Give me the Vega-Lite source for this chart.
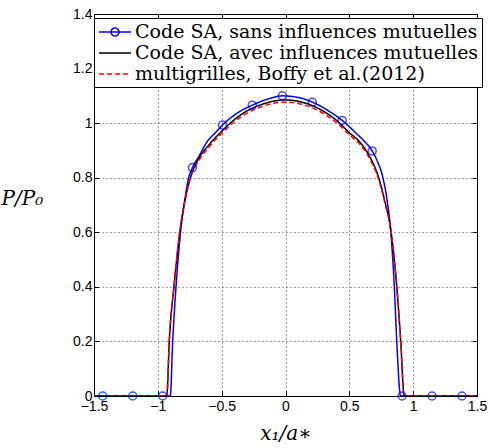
{
  "$schema": "https://vega.github.io/schema/vega-lite/v6.json",
  "width": 383,
  "height": 382,
  "autosize": {"type": "none"},
  "padding": {"left": 94, "top": 14, "right": 13, "bottom": 52},
  "background": "white",
  "config": {
    "view": {"stroke": "black", "strokeWidth": 1},
    "legend": {"labelFont": "DejaVu Serif", "labelFontSize": 19, "labelColor": "black"},
    "axis": {
      "labelFont": "Liberation Sans",
      "labelFontSize": 14,
      "labelColor": "black",
      "labelFlush": false,
      "labelOverlap": false,
      "domainColor": "black",
      "tickColor": "black",
      "gridColor": "#444",
      "gridDash": [1, 3],
      "gridWidth": 1,
      "titleFont": "DejaVu Serif",
      "titleFontStyle": "italic",
      "titleFontWeight": "normal",
      "titleFontSize": 20,
      "titleColor": "black"
    }
  },
  "datasets": {
    "lines": [
      {"series": "Code SA, sans influences mutuelles", "x": -1.5, "p": 0},
      {"series": "Code SA, sans influences mutuelles", "x": -0.903, "p": 0},
      {"series": "Code SA, sans influences mutuelles", "x": -0.883, "p": 0.205},
      {"series": "Code SA, sans influences mutuelles", "x": -0.857, "p": 0.404},
      {"series": "Code SA, sans influences mutuelles", "x": -0.821, "p": 0.605},
      {"series": "Code SA, sans influences mutuelles", "x": -0.785, "p": 0.73},
      {"series": "Code SA, sans influences mutuelles", "x": -0.761, "p": 0.795},
      {"series": "Code SA, sans influences mutuelles", "x": -0.729, "p": 0.837},
      {"series": "Code SA, sans influences mutuelles", "x": -0.68, "p": 0.877},
      {"series": "Code SA, sans influences mutuelles", "x": -0.617, "p": 0.93},
      {"series": "Code SA, sans influences mutuelles", "x": -0.55, "p": 0.965},
      {"series": "Code SA, sans influences mutuelles", "x": -0.494, "p": 0.993},
      {"series": "Code SA, sans influences mutuelles", "x": -0.4, "p": 1.03},
      {"series": "Code SA, sans influences mutuelles", "x": -0.26, "p": 1.066},
      {"series": "Code SA, sans influences mutuelles", "x": -0.14, "p": 1.088},
      {"series": "Code SA, sans influences mutuelles", "x": -0.025, "p": 1.1},
      {"series": "Code SA, sans influences mutuelles", "x": 0.1, "p": 1.094},
      {"series": "Code SA, sans influences mutuelles", "x": 0.21, "p": 1.077},
      {"series": "Code SA, sans influences mutuelles", "x": 0.33, "p": 1.047},
      {"series": "Code SA, sans influences mutuelles", "x": 0.444, "p": 1.01},
      {"series": "Code SA, sans influences mutuelles", "x": 0.56, "p": 0.96},
      {"series": "Code SA, sans influences mutuelles", "x": 0.615, "p": 0.935},
      {"series": "Code SA, sans influences mutuelles", "x": 0.679, "p": 0.898},
      {"series": "Code SA, sans influences mutuelles", "x": 0.72, "p": 0.86},
      {"series": "Code SA, sans influences mutuelles", "x": 0.761, "p": 0.804},
      {"series": "Code SA, sans influences mutuelles", "x": 0.795, "p": 0.72},
      {"series": "Code SA, sans influences mutuelles", "x": 0.824, "p": 0.605},
      {"series": "Code SA, sans influences mutuelles", "x": 0.852, "p": 0.404},
      {"series": "Code SA, sans influences mutuelles", "x": 0.871, "p": 0.205},
      {"series": "Code SA, sans influences mutuelles", "x": 0.902, "p": 0},
      {"series": "Code SA, sans influences mutuelles", "x": 1.5, "p": 0},
      {"series": "Code SA, avec influences mutuelles", "x": -1.5, "p": 0},
      {"series": "Code SA, avec influences mutuelles", "x": -0.93, "p": 0},
      {"series": "Code SA, avec influences mutuelles", "x": -0.91, "p": 0.205},
      {"series": "Code SA, avec influences mutuelles", "x": -0.873, "p": 0.404},
      {"series": "Code SA, avec influences mutuelles", "x": -0.826, "p": 0.605},
      {"series": "Code SA, avec influences mutuelles", "x": -0.79, "p": 0.71},
      {"series": "Code SA, avec influences mutuelles", "x": -0.742, "p": 0.804},
      {"series": "Code SA, avec influences mutuelles", "x": -0.68, "p": 0.87},
      {"series": "Code SA, avec influences mutuelles", "x": -0.6, "p": 0.92},
      {"series": "Code SA, avec influences mutuelles", "x": -0.5, "p": 0.97},
      {"series": "Code SA, avec influences mutuelles", "x": -0.4, "p": 1.013},
      {"series": "Code SA, avec influences mutuelles", "x": -0.3, "p": 1.045},
      {"series": "Code SA, avec influences mutuelles", "x": -0.2, "p": 1.066},
      {"series": "Code SA, avec influences mutuelles", "x": -0.1, "p": 1.08},
      {"series": "Code SA, avec influences mutuelles", "x": 0, "p": 1.085},
      {"series": "Code SA, avec influences mutuelles", "x": 0.1, "p": 1.08},
      {"series": "Code SA, avec influences mutuelles", "x": 0.2, "p": 1.066},
      {"series": "Code SA, avec influences mutuelles", "x": 0.3, "p": 1.043},
      {"series": "Code SA, avec influences mutuelles", "x": 0.4, "p": 1.01},
      {"series": "Code SA, avec influences mutuelles", "x": 0.5, "p": 0.965},
      {"series": "Code SA, avec influences mutuelles", "x": 0.583, "p": 0.93},
      {"series": "Code SA, avec influences mutuelles", "x": 0.65, "p": 0.885},
      {"series": "Code SA, avec influences mutuelles", "x": 0.727, "p": 0.804},
      {"series": "Code SA, avec influences mutuelles", "x": 0.78, "p": 0.71},
      {"series": "Code SA, avec influences mutuelles", "x": 0.826, "p": 0.605},
      {"series": "Code SA, avec influences mutuelles", "x": 0.871, "p": 0.404},
      {"series": "Code SA, avec influences mutuelles", "x": 0.902, "p": 0.205},
      {"series": "Code SA, avec influences mutuelles", "x": 0.93, "p": 0},
      {"series": "Code SA, avec influences mutuelles", "x": 1.5, "p": 0},
      {"series": "multigrilles, Boffy et al.(2012)", "x": -1.5, "p": 0},
      {"series": "multigrilles, Boffy et al.(2012)", "x": -0.93, "p": 0},
      {"series": "multigrilles, Boffy et al.(2012)", "x": -0.91, "p": 0.205},
      {"series": "multigrilles, Boffy et al.(2012)", "x": -0.873, "p": 0.404},
      {"series": "multigrilles, Boffy et al.(2012)", "x": -0.828, "p": 0.605},
      {"series": "multigrilles, Boffy et al.(2012)", "x": -0.792, "p": 0.705},
      {"series": "multigrilles, Boffy et al.(2012)", "x": -0.745, "p": 0.797},
      {"series": "multigrilles, Boffy et al.(2012)", "x": -0.68, "p": 0.862},
      {"series": "multigrilles, Boffy et al.(2012)", "x": -0.6, "p": 0.912},
      {"series": "multigrilles, Boffy et al.(2012)", "x": -0.5, "p": 0.962},
      {"series": "multigrilles, Boffy et al.(2012)", "x": -0.4, "p": 1.005},
      {"series": "multigrilles, Boffy et al.(2012)", "x": -0.3, "p": 1.037},
      {"series": "multigrilles, Boffy et al.(2012)", "x": -0.2, "p": 1.058},
      {"series": "multigrilles, Boffy et al.(2012)", "x": -0.1, "p": 1.072},
      {"series": "multigrilles, Boffy et al.(2012)", "x": 0, "p": 1.077},
      {"series": "multigrilles, Boffy et al.(2012)", "x": 0.1, "p": 1.072},
      {"series": "multigrilles, Boffy et al.(2012)", "x": 0.2, "p": 1.058},
      {"series": "multigrilles, Boffy et al.(2012)", "x": 0.3, "p": 1.035},
      {"series": "multigrilles, Boffy et al.(2012)", "x": 0.4, "p": 1.002},
      {"series": "multigrilles, Boffy et al.(2012)", "x": 0.5, "p": 0.957},
      {"series": "multigrilles, Boffy et al.(2012)", "x": 0.583, "p": 0.922},
      {"series": "multigrilles, Boffy et al.(2012)", "x": 0.65, "p": 0.878},
      {"series": "multigrilles, Boffy et al.(2012)", "x": 0.727, "p": 0.797},
      {"series": "multigrilles, Boffy et al.(2012)", "x": 0.78, "p": 0.705},
      {"series": "multigrilles, Boffy et al.(2012)", "x": 0.826, "p": 0.605},
      {"series": "multigrilles, Boffy et al.(2012)", "x": 0.871, "p": 0.404},
      {"series": "multigrilles, Boffy et al.(2012)", "x": 0.902, "p": 0.205},
      {"series": "multigrilles, Boffy et al.(2012)", "x": 0.93, "p": 0},
      {"series": "multigrilles, Boffy et al.(2012)", "x": 1.5, "p": 0}
    ],
    "markers": [
      {"x": -1.432, "p": 0},
      {"x": -1.197, "p": 0},
      {"x": -0.963, "p": 0},
      {"x": -0.729, "p": 0.837},
      {"x": -0.494, "p": 0.993},
      {"x": -0.26, "p": 1.066},
      {"x": -0.025, "p": 1.1},
      {"x": 0.21, "p": 1.077},
      {"x": 0.444, "p": 1.01},
      {"x": 0.679, "p": 0.898},
      {"x": 0.913, "p": 0},
      {"x": 1.148, "p": 0},
      {"x": 1.382, "p": 0}
    ]
  },
  "resolve": {"axis": {"x": "independent", "y": "independent"}},
  "layer": [
    {
      "data": {"name": "lines"},
      "mark": {"type": "line", "strokeWidth": 1.5, "interpolate": "monotone", "clip": true},
      "encoding": {
        "x": {
          "field": "x", "type": "quantitative",
          "scale": {"domain": [-1.5, 1.5], "nice": false, "zero": false},
          "axis": {
            "orient": "bottom", "values": [-1.5, -1, -0.5, 0, 0.5, 1, 1.5],
            "grid": true, "tickSize": -5, "labelPadding": 8,
            "labelExpr": "format(datum.value, '~g')",
            "title": "x₁/a∗", "titleY": 37, "titleBaseline": "middle"
          }
        },
        "y": {
          "field": "p", "type": "quantitative",
          "scale": {"domain": [0, 1.4], "nice": false},
          "axis": {
            "orient": "left", "values": [0, 0.2, 0.4, 0.6, 0.8, 1, 1.2, 1.4],
            "grid": true, "tickSize": -5, "labelPadding": 7,
            "labelExpr": "format(datum.value, '~g')",
            "title": "P/P₀", "titleAngle": 0, "titleAlign": "left",
            "titleX": -93, "titleY": 184, "titleBaseline": "middle"
          }
        },
        "color": {
          "field": "series", "type": "nominal",
          "scale": {
            "domain": ["Code SA, sans influences mutuelles", "Code SA, avec influences mutuelles", "multigrilles, Boffy et al.(2012)"],
            "range": ["#0000ff", "#000000", "#ff0000"]
          },
          "legend": {
            "title": null,
            "orient": "none", "legendX": 0, "legendY": 4,
            "fillColor": "white", "strokeColor": "black",
            "padding": 3,
            "symbolSize": 400, "symbolStrokeWidth": 1.5, "symbolOffset": 7,
            "labelFont": "DejaVu Serif", "labelFontSize": 19, "labelColor": "black",
            "labelOffset": 9, "rowPadding": 0, "labelLimit": 400,
            "encode": {
              "symbols": {
                "update": {
                  "shape": {"signal": "datum.value === 'Code SA, sans influences mutuelles' ? 'M-1.6,0H1.6M0.4,0A0.4,0.4 0 1 1 -0.4,0A0.4,0.4 0 1 1 0.4,0' : 'M-1.6,0H1.6'"},
                  "fill": {"value": "transparent"}
                }
              }
            }
          }
        },
        "strokeDash": {
          "field": "series", "type": "nominal",
          "scale": {
            "domain": ["Code SA, sans influences mutuelles", "Code SA, avec influences mutuelles", "multigrilles, Boffy et al.(2012)"],
            "range": [[1, 0], [1, 0], [5, 3]]
          },
          "legend": null
        }
      }
    },
    {
      "data": {"name": "markers"},
      "mark": {"type": "point", "shape": "circle", "filled": false, "stroke": "#0000ff", "strokeWidth": 1.5, "size": 64, "clip": false},
      "encoding": {
        "x": {
          "field": "x", "type": "quantitative",
          "scale": {"domain": [-1.5, 1.5], "nice": false, "zero": false},
          "axis": {"orient": "top", "values": [-1.5, -1, -0.5, 0, 0.5, 1, 1.5], "labels": false, "grid": false, "tickSize": -5, "title": null}
        },
        "y": {
          "field": "p", "type": "quantitative",
          "scale": {"domain": [0, 1.4], "nice": false},
          "axis": {"orient": "right", "values": [0, 0.2, 0.4, 0.6, 0.8, 1, 1.2, 1.4], "labels": false, "grid": false, "tickSize": -5, "title": null}
        }
      }
    }
  ]
}
